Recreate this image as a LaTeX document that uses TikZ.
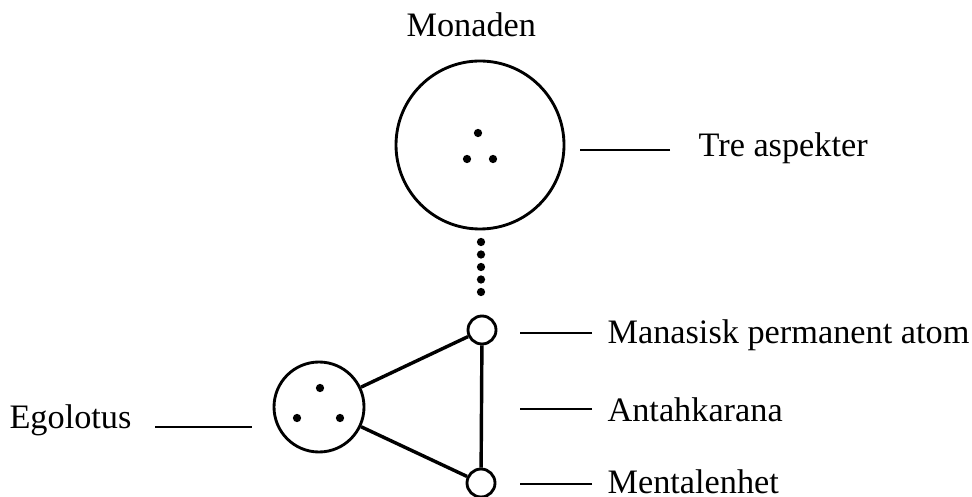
\documentclass[tikz,border=0pt]{standalone}
\usepackage{fontspec}
\setmainfont{Liberation Serif}
\usetikzlibrary{positioning}

\begin{document}
\begin{tikzpicture}[
    x=0.35pt, y=-0.35pt,% one unit = one pixel of the sketch
    font=\fontsize{12}{14}\selectfont,
       ring/.style = {draw, circle, line width=1pt, inner sep=0pt},% circles
        lbl/.style = {inner sep=0pt},% texts
       lead/.style = {line width=0.8pt},% label lines
       edge/.style = {line width=1.2pt},% triangle sides
        pnt/.style = {fill, circle, inner sep=0pt, minimum size=2.9pt}% dots
    ]
    \useasboundingbox (0,0) rectangle (972,497);
    % monad with its three aspects
    \node (monad) [ring, minimum size=58.8pt] at (480,145) {};
    \node (title) [lbl, anchor=base west] at (406,37) {Monaden};
    \node [pnt] at ([shift={(-2,-12)}]monad.center) {};
    \node [pnt] at ([shift={(-13,14)}]monad.center) {};
    \node [pnt] at ([shift={(13,14)}]monad.center) {};
    \foreach \i in {0,...,4}
        \node [pnt] at (481,242+12.5*\i) {};
    % triad
    \node (manas) [ring, minimum size=9.8pt] at (482,330) {};
    \node (mental) [ring, minimum size=9.8pt] at (481,483) {};
    \node (ego) [ring, minimum size=31.5pt] at (319,407) {};
    \node [pnt] at ([shift={(1,-19)}]ego.center) {};
    \node [pnt] at ([shift={(-22,11)}]ego.center) {};
    \node [pnt] at ([shift={(21,11)}]ego.center) {};
    \draw[edge] (ego) -- (manas);
    \draw[edge] (ego) -- (mental);
    \draw[edge] (manas) -- (mental);
    % labels
    \node (tre) [lbl, anchor=base west] at (698,157) {Tre aspekter};
    \node (atom) [lbl, anchor=base west] at (607,343) {Manasisk permanent atom};
    \node (antah) [lbl, anchor=base west] at (607,421) {Antahkarana};
    \node (enhet) [lbl, anchor=base west] at (607,493) {Mentalenhet};
    \node (lotus) [lbl, anchor=base east] at (132,428) {Egolotus};
    \draw[lead] (tre.base west) ++(-28,-7) -- ++(-90,0);
    \draw[lead] (atom.base west) ++(-15,-10) -- ++(-72,0);
    \draw[lead] (antah.base west) ++(-15,-12) -- ++(-72,0);
    \draw[lead] (enhet.base west) ++(-15,-9) -- ++(-72,0);
    \draw[lead] (lotus.base east) ++(23,-1) -- ++(97,0);
\end{tikzpicture}
\end{document}
